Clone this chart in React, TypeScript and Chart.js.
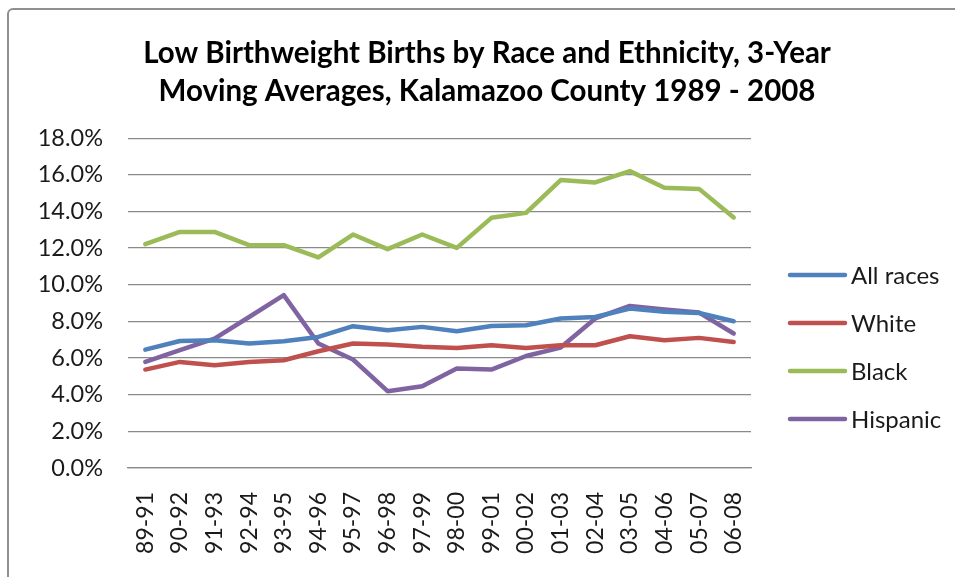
import React, { useEffect, useRef } from "react";
import { Chart, registerables, layouts } from "chart.js";

Chart.register(...registerables);

const categories = ["89-91","90-92","91-93","92-94","93-95","94-96","95-97","96-98","97-99","98-00","99-01","00-02","01-03","02-04","03-05","04-06","05-07","06-08"];
const allRaces = [6.46, 6.93, 6.97, 6.79, 6.92, 7.15, 7.74, 7.52, 7.70, 7.46, 7.75, 7.79, 8.16, 8.24, 8.70, 8.52, 8.46, 8.01];
const white = [5.37, 5.79, 5.61, 5.79, 5.88, 6.37, 6.79, 6.74, 6.61, 6.55, 6.70, 6.55, 6.70, 6.70, 7.19, 6.97, 7.10, 6.88];
const black = [12.21, 12.88, 12.88, 12.16, 12.16, 11.49, 12.74, 11.94, 12.74, 12.01, 13.65, 13.92, 15.71, 15.58, 16.20, 15.29, 15.23, 13.67];
const hispanic = [5.79, 6.43, 7.06, 8.24, 9.43, 6.79, 5.92, 4.19, 4.46, 5.43, 5.37, 6.11, 6.57, 8.16, 8.84, 8.65, 8.48, 7.34];
const seriesNames = ["All races", "White", "Black", "Hispanic"];
const seriesColors = ["#4F81BD", "#C0504D", "#9BBB59", "#8064A2"];
const titleLines = ["Low Birthweight Births by Race and Ethnicity, 3-Year", "Moving Averages, Kalamazoo County 1989 - 2008"];

const LEGEND_WIDTH = 204;
const LEGEND_FIRST_OFFSET = 137;
const LEGEND_STEP = 48;

const sideLegend = {
  id: "sideLegend",
  beforeInit(chart: any) {
    const box: any = {
      position: "right",
      weight: 1000,
      fullSize: false,
      options: {},
      top: 0, left: 0, right: 0, bottom: 0, width: 0, height: 0,
      isHorizontal: () => false,
      update(maxWidth: number, maxHeight: number) {
        box.width = LEGEND_WIDTH;
        box.height = maxHeight;
      },
      getPadding: () => ({ top: 0, left: 0, right: 0, bottom: 0 }),
      draw() {
        const ctx = chart.ctx;
        ctx.save();
        chart.data.datasets.forEach((ds: any, i: number) => {
          const y = chart.chartArea.top + LEGEND_FIRST_OFFSET + i * LEGEND_STEP;
          const x0 = box.left + 39;
          ctx.strokeStyle = ds.borderColor;
          ctx.lineWidth = 4.5;
          ctx.lineCap = "round";
          ctx.beginPath();
          ctx.moveTo(x0, y);
          ctx.lineTo(x0 + 55, y);
          ctx.stroke();
          ctx.fillStyle = "#1a1a1a";
          ctx.font = "24px Lato";
          ctx.textBaseline = "middle";
          ctx.textAlign = "left";
          ctx.fillText(ds.label, x0 + 61, y + 1);
        });
        ctx.restore();
      },
    };
    layouts.addBox(chart, box);
  },
};

export default function App() {
  const ref = useRef<HTMLCanvasElement | null>(null);
  useEffect(() => {
    if (!ref.current) return;
    const seriesData = [allRaces, white, black, hispanic];
    const chart = new Chart(ref.current, {
      type: "line",
      data: {
        labels: categories,
        datasets: seriesData.map((d, i) => ({
          label: seriesNames[i],
          data: d,
          borderColor: seriesColors[i],
          backgroundColor: seriesColors[i],
          borderWidth: 4.5,
          pointRadius: 0,
          tension: 0,
          borderCapStyle: "round",
          borderJoinStyle: "round",
        })),
      },
      options: {
        responsive: false,
        animation: false,
        layout: { padding: { left: 19, right: 0, top: 0, bottom: 0 } },
        plugins: {
          legend: { display: false },
          tooltip: { enabled: false },
          title: {
            display: true,
            text: titleLines,
            color: "#000",
            font: { family: "Lato", size: 29.5, weight: "bold", lineHeight: 1.29 },
            padding: { top: 34, bottom: 28 },
          },
        },
        scales: {
          x: {
            offset: true,
            grid: { display: false, drawTicks: false },
            border: { display: true, color: "#8a8a8a", width: 1.2 },
            ticks: {
              minRotation: 90,
              maxRotation: 90,
              autoSkip: false,
              padding: 24,
              color: "#1a1a1a",
              font: { family: "Lato", size: 23 },
            },
            afterFit: (s: any) => { s.height = 109; },
          },
          y: {
            min: 0,
            max: 18,
            grid: { color: "#8a8a8a", lineWidth: 1.2, drawTicks: false },
            border: { display: false },
            ticks: {
              stepSize: 2,
              padding: 25,
              color: "#1a1a1a",
              font: { family: "Lato", size: 23.5 },
              callback: (v: any) => Number(v).toFixed(1) + "%",
            },
            afterFit: (s: any) => { s.width = 109; },
          },
        },
      },
      plugins: [sideLegend],
    } as any);
    return () => chart.destroy();
  }, []);
  return (
    <div style={{ position: "absolute", left: 0, top: 0, width: 955, height: 577, overflow: "hidden", background: "#fff" }}>
      <div style={{ position: "absolute", left: 7, top: 8, width: 1000, height: 700, border: "2px solid #8f8f8f", borderRadius: 6, boxSizing: "border-box" }} />
      <canvas ref={ref} width={955} height={577} style={{ position: "absolute", left: 0, top: 0 }} />
    </div>
  );
}
